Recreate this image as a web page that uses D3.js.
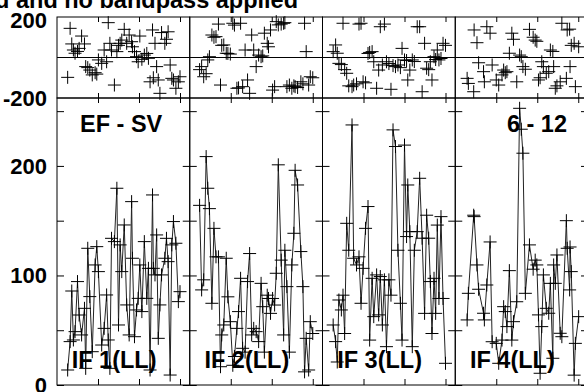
<!DOCTYPE html>
<html><head><meta charset="utf-8">
<script src="https://cdn.jsdelivr.net/npm/d3@7"></script>
<style>
html,body{margin:0;padding:0;background:#fff;}
svg{display:block;}
text{font-family:"Liberation Sans",Arial,Helvetica,sans-serif;font-weight:bold;fill:#000;}
</style></head>
<body>
<svg id="chart" width="584" height="392"></svg>
<script>
// ---- data (time in hours, amplitude, phase in degrees) ----
const titleText = "d and no bandpass applied";
const baselineLabel = "EF - SV";
const channelLabel = "6 - 12";
const ifLabels = ["IF 1(LL)", "IF 2(LL)", "IF 3(LL)", "IF 4(LL)"];
const timeTicks = [6, 7, 8];
const ampTicks = [0, 50, 100, 150, 200, 250];
const ampTickLabels = [200, 100, 0];
const phaseTickLabels = [200, -200];

const times1 = [5.26,5.32,5.36,5.40,5.44,5.50,5.54,5.60,5.67,5.70,5.75,5.80,5.86,5.93,5.97,6.01,6.09,6.15,6.21,6.25,6.29,6.33,6.40,6.46,6.50,6.54,6.58,6.64,6.70,6.76,6.82,6.84,6.89,6.94,6.98,7.02,7.07,7.13,7.19,7.23,7.27,7.33,7.35,7.39,7.43,7.47,7.51,7.55,7.63,7.67,7.71,7.76,7.80,7.84,7.90,7.96,8.00];
const amp1 = [13.7,39.6,85.8,41.1,48.7,94.4,63.9,45.7,70,15.2,124.8,80.7,30.4,109.6,126.3,103.5,36.5,51.7,82.2,41.1,15.2,133.9,130.9,179.6,54.8,127.9,103.5,146.1,73.1,45.7,167.4,115.7,44.1,68.5,79.1,109.6,67,130.9,79.1,106.5,13.7,173.5,106.5,100.5,137,42.6,73.1,100.5,115.7,133.9,112.6,9.1,127.9,149.2,129.4,76.1,85.2];
const phase1 = [-98,144,67,37,21,30,45,106,67,-45,-50,-62,-86,-75,-82,-12,-29,37,-21,172,70,37,-136,29,60,70,86,139,70,111,78,53,29,4,-21,106,-9,12,20,-4,-120,136,-100,70,-45,-111,-177,123,70,90,127,-37,-103,-111,-152,-120,-95];

const times2 = [5.24,5.29,5.34,5.40,5.44,5.48,5.54,5.59,5.64,5.70,5.75,5.78,5.83,5.89,5.93,5.99,6.05,6.09,6.15,6.19,6.24,6.29,6.35,6.41,6.46,6.51,6.56,6.62,6.68,6.74,6.78,6.82,6.89,6.92,6.97,7.02,7.07,7.11,7.16,7.23,7.29,7.32,7.37,7.43,7.49,7.54,7.57,7.63,7.71,7.76,7.80,7.84,7.90,7.94,8.00];
const amp2 = [164,86.8,96,208.5,179.6,161,74.6,143,117,117,16.7,45.7,54.8,115.7,80.5,57.8,18,26,51.7,67,97.4,33.5,30,94.4,120,45.7,51.7,48.7,39.6,92.8,71.5,30,82,79,65.4,79,73,102,201,114,45.7,123,89.8,30,109.6,138.5,196,182.6,121.8,89.8,12,42.6,13.7,57.8,47];
const phase2 = [-60,-45,-95,-80,-12,4,111,100,103,165,-136,60,62,21,20,17,169,160,-152,-150,169,-144,37,-111,-177,111,37,-45,12,4,8,120,70,53,136,-161,-144,177,161,165,169,172,-144,-136,-152,-140,-144,-148,-120,-130,169,29,-136,-95,-100];

const times3 = [5.26,5.32,5.36,5.40,5.46,5.50,5.54,5.59,5.64,5.72,5.76,5.83,5.89,5.94,5.99,6.05,6.11,6.15,6.21,6.25,6.32,6.37,6.41,6.46,6.51,6.56,6.62,6.67,6.72,6.78,6.84,6.90,6.94,7.00,7.05,7.08,7.13,7.19,7.24,7.31,7.37,7.43,7.49,7.54,7.59,7.63,7.67,7.72,7.76,7.80,7.84,7.89,7.94,8.00];
const amp3 = [54.8,39.6,21,77.6,68.5,82,47,147.6,123,237.4,115.7,109.6,117,74.6,106.5,143,162.9,41,97.4,62.4,100.5,64,99,54.8,96,35,96,82,232.9,217.7,123,74.6,41,219,135.5,182.6,140,35,123,140,188.7,134,65.4,155,134,94.4,47,97.4,65.4,146,79,153.7,79,19.8];
const phase3 = [29,62,21,-29,-35,169,-60,-78,-140,-144,-136,-130,165,169,-120,-125,20,25,29,-21,-152,-62,152,-37,165,-21,-30,-157,-40,-45,-37,-50,45,-12,-15,-111,-62,-12,-20,152,152,-169,70,-53,-60,-21,-111,4,-10,37,-12,-5,70,60];

const times4 = [5.29,5.32,5.45,5.46,5.53,5.57,5.69,5.71,5.77,5.85,5.90,6.00,6.06,6.14,6.18,6.22,6.26,6.32,6.38,6.42,6.50,6.57,6.61,6.65,6.71,6.81,6.90,6.95,6.99,7.03,7.07,7.11,7.15,7.22,7.28,7.32,7.38,7.40,7.44,7.48,7.56,7.60,7.71,7.73,7.79,7.80,7.83,7.90,7.93,8.01];
const amp4 = [59.4,83.7,155,153.7,109.6,87.4,65.5,59.4,91.3,130.6,39.5,38,19.8,41,71.5,67,53.3,104.4,41,57.8,76,252.6,233.5,211.6,83.7,127.9,105.7,114,109.6,64,10.7,53.3,100.5,70,65.5,92.8,24.4,109.6,92.8,118.7,47.2,44.1,150,124.8,86.8,126,103.5,9,38,62.4];
const phase4 = [-103,-128,-169,136,73,-26,-70,-120,152,120,-37,-111,-136,-86,-62,-75,-70,21,120,90,-120,12,4,-45,-58,139,100,86,80,-111,-100,-21,-45,-78,-70,37,30,-45,-152,-140,-120,169,-103,136,140,-45,60,70,-144,53];

const panels = [
  {label: ifLabels[0], times: times1, amp: amp1, phase: phase1},
  {label: ifLabels[1], times: times2, amp: amp2, phase: phase2},
  {label: ifLabels[2], times: times3, amp: amp3, phase: phase3},
  {label: ifLabels[3], times: times4, amp: amp4, phase: phase4}
];

// ---- layout ----
const svg = d3.select("#chart");
const left0 = 57, panelW = 132.75, hourPx = 41;
const phaseTop = 17, phaseBot = 98, ampBot = 385;
const yP = d3.scaleLinear().domain([-200, 200]).range([phaseBot, phaseTop]);
const yA = d3.scaleLinear().domain([0, 262]).range([ampBot, phaseBot]);
const crossPath = "M-6.5,0H6.5M0,-6.5V6.5";

svg.append("rect").attr("width", 584).attr("height", 392).attr("fill", "#fff");

// title (only its tail is visible at the top edge)
svg.append("text").attr("x", 298).attr("y", 8).attr("text-anchor", "end")
  .attr("font-size", 23.5).text(titleText);

panels.forEach((p, i) => {
  const L = left0 + i * panelW, R = L + panelW;
  const x = d3.scaleLinear().domain([5, 5 + panelW / hourPx]).range([L, R]);
  const g = svg.append("g");

  // frames
  g.append("rect").attr("x", L).attr("y", phaseTop).attr("width", panelW)
    .attr("height", phaseBot - phaseTop).attr("fill", "none").attr("stroke", "#000").attr("stroke-width", 1);
  g.append("rect").attr("x", L).attr("y", phaseBot).attr("width", panelW)
    .attr("height", ampBot - phaseBot).attr("fill", "none").attr("stroke", "#000").attr("stroke-width", 1);
  // phase zero line
  g.append("line").attr("x1", L).attr("x2", R).attr("y1", yP(0)).attr("y2", yP(0))
    .attr("stroke", "#000").attr("stroke-width", 1);

  // y ticks (amplitude), inward on both edges
  const axL = d3.axisRight(yA).tickValues(ampTicks).tickSize(7).tickSizeOuter(0).tickFormat("");
  const axR = d3.axisLeft(yA).tickValues(ampTicks).tickSize(7).tickSizeOuter(0).tickFormat("");
  g.append("g").attr("transform", `translate(${L},0)`).call(axL).call(s => s.select(".domain").remove());
  g.append("g").attr("transform", `translate(${R},0)`).call(axR).call(s => s.select(".domain").remove());

  // x ticks, inward
  const xt = (y, dir, len) => {
    const ax = (dir > 0 ? d3.axisBottom(x) : d3.axisTop(x)).tickValues(timeTicks).tickSize(len).tickSizeOuter(0).tickFormat("");
    g.append("g").attr("transform", `translate(0,${y})`).call(ax).call(s => s.select(".domain").remove());
  };
  xt(phaseTop, 1, 5);
  xt(phaseBot, -1, 5);
  xt(phaseBot, 1, 5);
  xt(ampBot, -1, 6);
  g.selectAll(".tick line").attr("stroke", "#000");

  // phase crosses
  g.append("g").selectAll("path").data(p.times.map((t, k) => [t, p.phase[k]])).join("path")
    .attr("transform", d => `translate(${x(d[0])},${yP(d[1])})`)
    .attr("d", crossPath).attr("stroke", "#000").attr("stroke-width", 1).attr("fill", "none");

  // amplitude line + crosses
  const pts = p.times.map((t, k) => [t, p.amp[k]]);
  g.append("path").datum(pts)
    .attr("d", d3.line().x(d => x(d[0])).y(d => yA(d[1])))
    .attr("fill", "none").attr("stroke", "#222").attr("stroke-width", 1);
  g.append("g").selectAll("path").data(pts).join("path")
    .attr("transform", d => `translate(${x(d[0])},${yA(d[1])})`)
    .attr("d", crossPath).attr("stroke", "#000").attr("stroke-width", 1).attr("fill", "none");

  // IF label
  g.append("text").attr("x", L + 14.7).attr("y", 368).attr("font-size", 23.5).text(p.label);

  if (i === 0) {
    g.append("text").attr("x", L + 23).attr("y", 131.5).attr("font-size", 23.5).text(baselineLabel);
  }
  if (i === 3) {
    g.append("text").attr("x", R - 21).attr("y", 131.5).attr("text-anchor", "end").attr("font-size", 23.5).text(channelLabel);
  }
});

// y-axis labels
const labG = svg.append("g").attr("font-size", 22).attr("text-anchor", "end");
phaseTickLabels.forEach(v => {
  const yy = v > 0 ? yP(v) + 11 : yP(v) + 8;
  labG.append("text").attr("x", 47).attr("y", yy).text(v);
});
ampTickLabels.forEach(v => {
  labG.append("text").attr("x", 47).attr("y", yA(v) + 8).text(v);
});
</script>
</body></html>
